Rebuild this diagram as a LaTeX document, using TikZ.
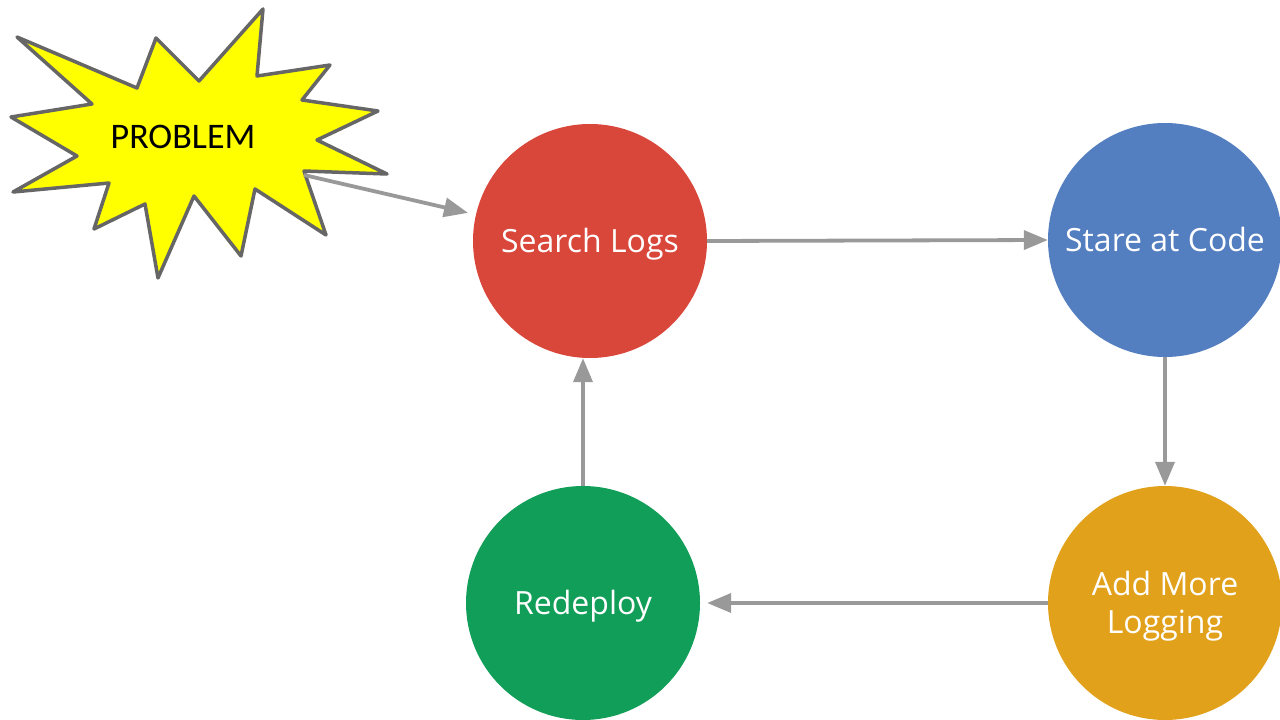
\documentclass[tikz,border=0pt]{standalone}
\usepackage{fontspec}
\setmainfont{Open Sans}
\newfontfamily\probfont{Carlito}
\usetikzlibrary{arrows.meta}
\definecolor{cred}{HTML}{D9463A}
\definecolor{cblue}{HTML}{537EBF}
\definecolor{corange}{HTML}{E2A11A}
\definecolor{cgreen}{HTML}{119E58}
\definecolor{cline}{HTML}{999999}
\definecolor{cstar}{HTML}{666666}
\definecolor{cyellow}{HTML}{FFFF00}
\tikzset{
  stepnode/.style={circle, minimum size=234pt, inner sep=0pt},
  steptext/.style={text=white, font=\fontsize{32}{38}\selectfont, align=center,
    text height=24pt, text depth=8pt, yshift=-3.5pt},
  steptwo/.style={text=white, font=\fontsize{32}{38}\selectfont, align=center, yshift=-3.5pt},
  conn/.style={draw=cline, line width=3.8pt, -{Triangle[length=24pt,width=19pt]}},
}
\begin{document}
\begin{tikzpicture}[x=1pt,y=-1pt]
\useasboundingbox (0,0) rectangle (1280,720);
\fill[white] (0,0) rectangle (1280,720);
% starburst
\draw[fill=cyellow, draw=cstar, line width=3.5pt, line join=round]
 (17,37) -- (137,88) -- (156,38) -- (199,81) -- (263,9) -- (257,76) -- (330,65)
 -- (302,100) -- (378,111) -- (317,140) -- (387,174) -- (304,171) -- (326,235)
 -- (255,189) -- (241,256) -- (194,196) -- (158,278) -- (145,204) -- (94,229)
 -- (109,183) -- (13,192) -- (77,156) -- (11,117) -- (92,104) -- cycle;
\node (prob) at (183,137) {\probfont\fontsize{36}{40}\selectfont PROBLEM};
\coordinate (pstart) at (304,175);
% circles
\node[stepnode, fill=cred, label={[steptext]center:Search Logs}] (s) at (590,241) {};
\node[stepnode, fill=cblue, label={[steptext]center:Stare at Code}] (c) at (1165,240) {};
\node[stepnode, fill=corange, label={[steptwo]center:{Add More\\Logging}}] (a) at (1165,603) {};
\node[stepnode, fill=cgreen, label={[steptext]center:Redeploy}] (r) at (583,603) {};
% connectors
\draw[conn, shorten >=8pt] (pstart) -- (s);
\draw[conn] (s.east) -- (c.west);
\draw[conn] (c.south) -- (a.north);
\draw[conn, shorten >=7pt] (a.west) -- (r.east);
\draw[conn] (r.north) -- (r.north |- s.south);
\end{tikzpicture}
\end{document}
